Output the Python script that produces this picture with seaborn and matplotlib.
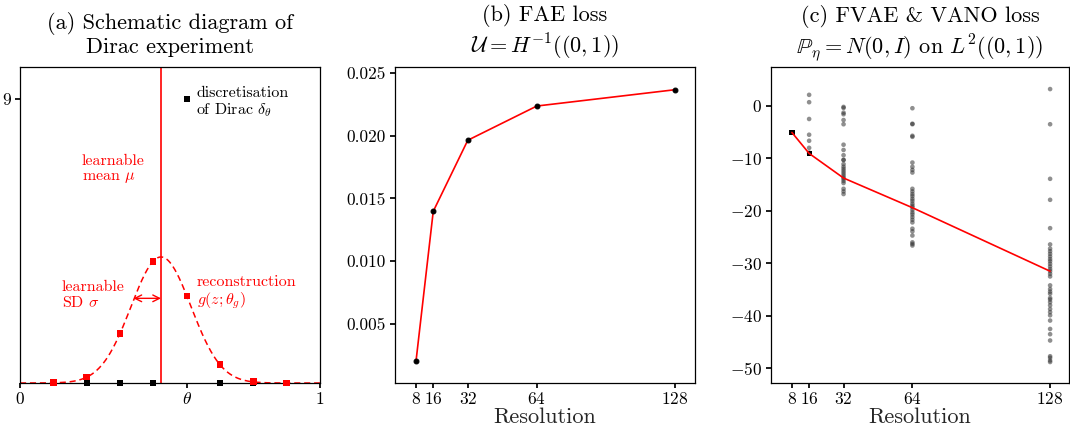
import numpy as np
import pandas as pd
import matplotlib
matplotlib.use("Agg")
import matplotlib.pyplot as plt
import seaborn as sns

# ---------------- data ----------------
# panel (a): schematic Dirac experiment
grid_x = [0.111, 0.222, 0.333, 0.444, 0.556, 0.667, 0.778, 0.889]
dirac_vals = [0, 0, 0, 0, 9, 0, 0, 0]
recon_vals = [0.01, 0.19, 1.56, 3.84, 2.76, 0.58, 0.04, 0.0]
mu = 0.47
sigma = 0.1
theta = 0.556

# panel (b): FAE loss
resolutions = [8, 16, 32, 64, 128]
fae_loss = [0.0020, 0.01397, 0.01964, 0.02237, 0.02367]

# panel (c): FVAE & VANO loss
vano_mean = [-5.07, -9.06, -13.75, -19.4, -31.5]
vano_8 = [-5.07]
vano_16 = [2.1, 0.7, -2.5, -5.5, -6.65, -8.0, -8.9, -9.1]
vano_32 = [-0.2, -0.4, -1.3, -1.6, -2.7, -3.5, -7.4, -8.4, -9.4, -10.3, -10.3,
           -11.1, -11.6, -12.0, -12.4, -12.8, -13.2, -13.6, -13.9, -14.3,
           -14.7, -15.8, -16.3, -16.8]
vano_64 = [-0.45, -3.4, -3.5, -5.7, -5.9, -10.8, -11.6, -12.2, -12.7, -15.8,
           -16.3, -16.8, -17.2, -17.7, -18.1, -18.6, -19.0, -19.3, -19.8,
           -20.3, -20.7, -21.2, -21.7, -22.2, -23.4, -23.9, -24.7, -26.0,
           -26.3, -26.6]
vano_128 = [3.2, -3.5, -13.9, -17.9, -23.3, -26.4, -27.2, -27.7, -28.2, -28.7,
            -29.2, -29.6, -30.1, -30.6, -31.1, -31.5, -32.0, -32.5, -34.2,
            -34.9, -35.4, -35.8, -36.6, -36.9, -37.4, -38.0, -38.7, -39.3,
            -39.9, -40.9, -42.5, -43.5, -44.7, -47.7, -48.0, -48.5, -48.8]

# ---------------- style ----------------
sns.set_theme(style="ticks")
plt.rcParams.update({
    "font.family": "serif",
    "font.serif": ["cmr10"],
    "mathtext.fontset": "cm",
    "axes.formatter.use_mathtext": True,
    "axes.unicode_minus": True,
    "axes.edgecolor": "black",
    "axes.linewidth": 0.9,
    "xtick.color": "black",
    "ytick.color": "black",
    "xtick.direction": "out",
    "ytick.direction": "out",
    "xtick.major.size": 3.5,
    "ytick.major.size": 3.5,
    "xtick.major.pad": 2.5,
    "ytick.major.pad": 3,
    "xtick.labelsize": 12.5,
    "ytick.labelsize": 12.5,
    "text.color": "black",
})

RED = "#ff0000"
TITLE_FS = 16
TITLE_PAD = 10
TITLE_LS = 1.2
fig = plt.figure(figsize=(10.7, 4.25), dpi=100)
ax_a = fig.add_axes([0.0187, 0.0988, 0.2804, 0.7435])
ax_b = fig.add_axes([0.3692, 0.0988, 0.2804, 0.7435])
ax_c = fig.add_axes([0.7206, 0.0988, 0.2785, 0.7435])

# ---------------- panel (a) ----------------
xs = np.linspace(0, 1, 400)
curve = pd.DataFrame({"x": xs,
                      "y": np.exp(-0.5 * ((xs - mu) / sigma) ** 2) / (sigma * np.sqrt(2 * np.pi))})
sns.lineplot(data=curve, x="x", y="y", ax=ax_a, color=RED, lw=1.1,
             linestyle=(0, (4, 2.5)))
ax_a.axvline(mu, color=RED, lw=1.2)
dfa = pd.DataFrame({"x": grid_x, "dirac": dirac_vals, "recon": recon_vals})
sns.scatterplot(data=dfa, x="x", y="dirac", ax=ax_a, marker="s", s=18,
                color="black", edgecolor="none", zorder=3, clip_on=False)
sns.scatterplot(data=dfa, x="x", y="recon", ax=ax_a, marker="s", s=22,
                color=RED, edgecolor="none", zorder=4, clip_on=False)
ax_a.annotate("", xy=(mu - 0.092, 2.68), xytext=(mu, 2.68),
              arrowprops=dict(arrowstyle="<->", color=RED, lw=1.0,
                              shrinkA=0, shrinkB=0))
ax_a.text(0.587, 8.87, "discretisation\nof Dirac $\\delta_\\theta$", ha="left",
          va="center", fontsize=11.5, linespacing=1.1)
ax_a.text(0.206, 6.75, "learnable\nmean $\\mu$", ha="left", va="center",
          fontsize=11.5, color=RED, linespacing=1.1)
ax_a.text(0.139, 2.77, "learnable\nSD $\\sigma$", ha="left", va="center",
          fontsize=11.5, color=RED, linespacing=1.1)
ax_a.text(0.589, 2.85, "reconstruction\n$g(z;\\theta_g)$", ha="left",
          va="center", fontsize=11.5, color=RED, linespacing=1.1)
ax_a.set_xlim(0, 1)
ax_a.set_ylim(0, 10)
ax_a.set_xticks([0, theta, 1])
ax_a.set_xticklabels(["0", "$\\theta$", "1"])
ax_a.set_yticks([9])
ax_a.set_yticklabels(["9"])
ax_a.set_xlabel("")
ax_a.set_ylabel("")
ax_a.set_title("(a) Schematic diagram of\nDirac experiment", fontsize=TITLE_FS,
               pad=TITLE_PAD, linespacing=TITLE_LS)

# ---------------- panel (b) ----------------
dfb = pd.DataFrame({"res": resolutions, "loss": fae_loss})
sns.lineplot(data=dfb, x="res", y="loss", ax=ax_b, color=RED, lw=1.2,
             marker="o", markersize=3.5, markerfacecolor="black",
             markeredgecolor="black")
ax_b.set_xlim(-1.7, 137.3)
ax_b.set_ylim(0.00028, 0.02548)
ax_b.set_xticks(resolutions)
ax_b.set_yticks([0.005, 0.010, 0.015, 0.020, 0.025])
ax_b.set_yticklabels(["0.005", "0.010", "0.015", "0.020", "0.025"])
ax_b.set_xlabel("Resolution", fontsize=TITLE_FS, labelpad=0)
ax_b.set_ylabel("")
ax_b.set_title("(b) FAE loss\n$\\mathcal{U} = H^{-1}((0,1))$", fontsize=TITLE_FS,
               pad=TITLE_PAD, linespacing=TITLE_LS)

# ---------------- panel (c) ----------------
pts = []
for r, vals in zip(resolutions, [vano_8, vano_16, vano_32, vano_64, vano_128]):
    for v in vals:
        pts.append((r, v))
dfc = pd.DataFrame(pts, columns=["res", "loss"])
sns.scatterplot(data=dfc, x="res", y="loss", ax=ax_c, color="#333333",
                alpha=0.55, s=11, edgecolor="none", zorder=2)
dfm = pd.DataFrame({"res": resolutions, "loss": vano_mean})
sns.lineplot(data=dfm, x="res", y="loss", ax=ax_c, color=RED, lw=1.2,
             zorder=3)
sns.scatterplot(data=dfm.iloc[:2], x="res", y="loss", ax=ax_c, marker="s",
                color="black", s=14, edgecolor="none", zorder=2.5)
ax_c.set_xlim(-1.7, 136.8)
ax_c.set_ylim(-52.8, 7.4)
ax_c.set_xticks(resolutions)
ax_c.set_yticks([0, -10, -20, -30, -40, -50])
ax_c.set_xlabel("Resolution", fontsize=TITLE_FS, labelpad=0)
ax_c.set_ylabel("")
ax_c.set_title("(c) FVAE & VANO loss\n$\\mathbb{P}_\\eta = N(0,I)$ on $L^2((0,1))$",
               fontsize=TITLE_FS, pad=TITLE_PAD, linespacing=TITLE_LS)

for ax in (ax_a, ax_b, ax_c):
    for sp in ax.spines.values():
        sp.set_visible(True)
        sp.set_color("black")

fig.savefig("out.png", dpi=100)
